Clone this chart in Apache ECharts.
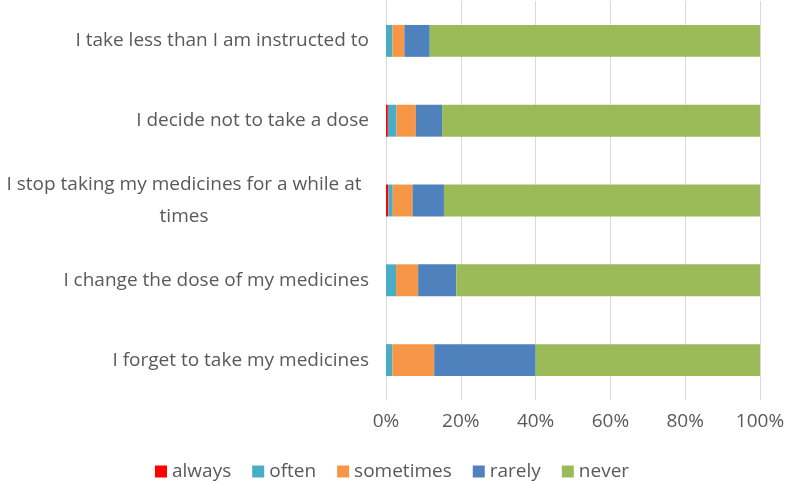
<!DOCTYPE html>
<html><head><meta charset="utf-8">
<script src="https://cdn.jsdelivr.net/npm/echarts@6/dist/echarts.min.js"></script>
<style>html,body{margin:0;padding:0;background:#fff}#c{width:787px;height:481px}</style>
</head><body><div id="c"></div>
<script>
const categories = [
  "I forget to take my medicines",
  "I change the dose of my medicines",
  "I stop taking my medicines for a while at times",
  "I decide not to take a dose",
  "I take less than I am instructed to"
];
const seriesNames = ["always", "often", "sometimes", "rarely", "never"];
const always    = [0,    0,    0.6, 0.5, 0];
const often     = [1.7,  2.7,  1.2, 2.3, 1.7];
const sometimes = [11.2, 5.9,  5.3, 5.2, 3.2];
const rarely    = [27.1, 10.2, 8.4, 7.0, 6.8];
const never     = [60.0, 81.2, 84.5, 85.0, 88.3];
const tickLabels = ["0%", "20%", "40%", "60%", "80%", "100%"];
const colors = ["#FF0000", "#4BACC6", "#F79646", "#4F81BD", "#9BBB59"];
const values = [always, often, sometimes, rarely, never];

const font = "Open Sans";
const maxChars = 42;
function wrapLabel(s) {
  if (s.length <= maxChars) return s;
  const words = s.split(' ');
  const lines = [];
  let cur = '';
  for (const w of words) {
    const t = cur ? cur + ' ' + w : w;
    if (t.length > maxChars && cur) { lines.push(cur); cur = w; } else { cur = t; }
  }
  if (cur) lines.push(cur);
  return lines.map(l => '{w|' + l + '}').join('\n');
}

const chart = echarts.init(document.getElementById('c'), null, {renderer: 'canvas'});
chart.setOption({
  animation: false,
  textStyle: {fontFamily: font},
  grid: {left: 386, right: 27, top: 1, bottom: 81, containLabel: false, outerBoundsMode: 'none'},
  legend: {
    top: 462, left: 155, itemWidth: 12, itemHeight: 12, itemGap: 21,
    icon: 'rect', padding: 0,
    textStyle: {fontFamily: font, fontSize: 19, color: '#595959'},
    data: seriesNames
  },
  xAxis: {
    type: 'value', min: 0, max: 100, interval: 20,
    axisLine: {show: false}, axisTick: {show: false},
    splitLine: {lineStyle: {color: '#D9D9D9', width: 1}},
    axisLabel: {
      fontFamily: font, fontSize: 19, color: '#595959', margin: 12,
      formatter: v => tickLabels[Math.round(v / 20)]
    }
  },
  yAxis: {
    type: 'category', data: categories,
    axisLine: {show: true, lineStyle: {color: '#D9D9D9'}},
    axisTick: {show: false},
    axisLabel: {
      fontFamily: font, fontSize: 19, color: '#595959', margin: 17,
      lineHeight: 32, align: 'right',
      formatter: wrapLabel,
      rich: {w: {fontFamily: font, fontSize: 19, color: '#595959', width: 370, align: 'center', lineHeight: 32}}
    }
  },
  series: seriesNames.map((n, i) => ({
    name: n, type: 'bar', stack: 'total', barWidth: '40%',
    itemStyle: {color: colors[i]},
    data: values[i]
  }))
});
</script></body></html>
